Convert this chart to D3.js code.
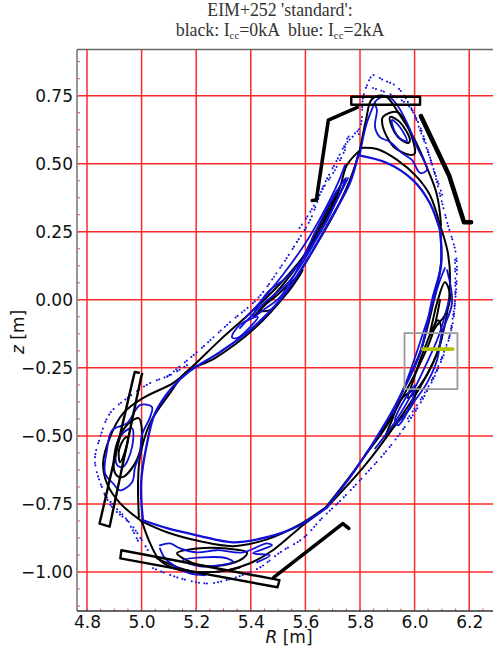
<!DOCTYPE html>
<html>
<head>
<meta charset="utf-8">
<script src="https://cdn.jsdelivr.net/npm/d3@7"></script>
<style>
  body { margin: 0; background: #fff; }
  svg { display: block; }
  .tick text { font-family: "DejaVu Sans"; font-size: 17px; fill: #111; }
</style>
</head>
<body>
<div id="chart"></div>
<script>
const rTicks = [4.8, 5.0, 5.2, 5.4, 5.6, 5.8, 6.0, 6.2];
const zTicks = [-1.0, -0.75, -0.5, -0.25, 0, 0.25, 0.5, 0.75];
const rMinor = d3.range(4.8, 6.3, 0.05);
const zMinor = d3.range(-1.125, 0.9, 0.0625);

// plasma boundary, black = 0 kA
const blackBoundaryTop = [[5.800,0.558],[5.862,0.554],[5.936,0.514],[6.009,0.451],[6.056,0.385],[6.093,0.275]];
const blackBoundaryRight = [[6.093,0.275],[6.097,0.139],[6.071,0],[6.023,-0.185],[5.961,-0.325],[5.895,-0.457],[5.785,-0.619],[5.675,-0.762]];
const blackBoundaryBottom = [[5.675,-0.762],[5.580,-0.825],[5.459,-0.880],[5.335,-0.905],[5.214,-0.887],[5.093,-0.854],[5.001,-0.814]];
const blackBoundaryInboard = [[4.990,-0.799],[4.987,-0.674],[4.994,-0.578],[5.031,-0.453],[5.104,-0.343],[5.163,-0.266],[5.269,-0.214],[5.415,-0.104],[5.525,0.017],[5.617,0.164],[5.708,0.322],[5.763,0.440],[5.800,0.550]];

// outer island separatrices, black
const blackOuterUpper = [[5.163,-0.266],[5.203,-0.229],[5.287,-0.148],[5.397,-0.049],[5.496,0.047],[5.591,0.157],[5.679,0.293],[5.727,0.414],[5.752,0.495],[5.800,0.550]];
const blackOuterTop = [[5.800,0.550],[5.822,0.661],[5.844,0.738],[5.892,0.749],[5.946,0.679],[6.001,0.587],[6.049,0.477],[6.082,0.385],[6.097,0.275]];
const blackOuterRight = [[6.093,0.275],[6.122,0.172],[6.130,0.061],[6.119,-0.049],[6.082,-0.196],[6.020,-0.321],[5.928,-0.461],[5.818,-0.608],[5.679,-0.762]];
const blackOuterBottom = [[5.679,-0.762],[5.591,-0.828],[5.481,-0.920],[5.397,-0.968],[5.313,-0.994],[5.214,-1.001],[5.141,-0.994],[5.067,-0.957],[5.031,-0.894],[5.001,-0.814]];
const blackOuterLeft = [[5.001,-0.814],[4.921,-0.747],[4.873,-0.674],[4.859,-0.600],[4.884,-0.505],[4.932,-0.417],[5.005,-0.361],[5.115,-0.306],[5.163,-0.266]];

// plasma boundary, blue = 2 kA
const blueBoundaryTop = [[5.793,0.532],[5.899,0.503],[5.994,0.440],[6.056,0.355],[6.093,0.256]];
const blueBoundaryRight = [[6.093,0.256],[6.097,0.127],[6.067,0.010],[6.020,-0.196],[5.958,-0.332],[5.899,-0.443],[5.782,-0.626],[5.679,-0.762]];
const blueBoundaryBottom = [[5.679,-0.762],[5.580,-0.828],[5.459,-0.872],[5.335,-0.891],[5.203,-0.865],[5.093,-0.839],[5.005,-0.810]];
const blueBoundaryInboard = [[5.005,-0.810],[4.998,-0.674],[5.020,-0.527],[5.049,-0.417],[5.111,-0.323],[5.177,-0.261],[5.287,-0.192],[5.397,-0.111],[5.507,-0.001],[5.606,0.146],[5.690,0.293],[5.763,0.429],[5.793,0.532]];

// closed island contours
const blackTopOuter = [[5.884,0.672],[5.936,0.690],[5.976,0.635],[6.001,0.539],[5.990,0.532],[5.928,0.558],[5.899,0.598],[5.881,0.650]];
const blackTopInner = [[5.910,0.672],[5.946,0.653],[5.983,0.587],[5.976,0.576],[5.939,0.598],[5.917,0.635]];
const blackLeftOuter = [[4.990,-0.435],[5.001,-0.516],[4.976,-0.600],[4.928,-0.652],[4.903,-0.637],[4.903,-0.553],[4.932,-0.479],[4.968,-0.442]];
const blackLeftInner = [[4.950,-0.505],[4.932,-0.578],[4.921,-0.597],[4.917,-0.553],[4.939,-0.508]];
const blackBottomOuter = [[5.130,-0.931],[5.203,-0.914],[5.313,-0.914],[5.386,-0.928],[5.371,-0.950],[5.298,-0.975],[5.214,-0.975],[5.152,-0.950]];
const blackUpperLoopA = [[5.434,-0.038],[5.496,0.017],[5.569,0.084],[5.591,0.109],[5.533,0.025],[5.470,-0.038]];
const blackUpperLoopB = [[5.624,0.220],[5.672,0.312],[5.716,0.403],[5.683,0.312],[5.639,0.227]];
const blackRightLoopA = [[6.082,-0.012],[6.111,0.065],[6.130,0.017],[6.111,-0.056],[6.082,-0.093],[6.056,-0.130],[6.067,-0.075]];
const blackRightLoopB = [[6.027,-0.203],[6.086,-0.075],[6.100,-0.130],[6.064,-0.240],[6.020,-0.314],[5.976,-0.361],[5.998,-0.288]];
const blackRightLoopC = [[5.947,-0.369],[6.001,-0.332],[5.990,-0.387],[5.928,-0.461],[5.892,-0.505],[5.917,-0.443]];

const blueTopWave = [[5.855,0.727],[5.899,0.749],[5.936,0.716],[5.976,0.642],[6.009,0.561],[6.045,0.477],[6.020,0.466],[5.990,0.514],[5.954,0.539],[5.910,0.580],[5.873,0.598],[5.855,0.635],[5.862,0.697]];
const blueTopInner = [[5.917,0.661],[5.946,0.635],[5.972,0.583],[5.946,0.594],[5.925,0.624]];
const blueLeftInner = [[4.965,-0.472],[4.965,-0.541],[4.932,-0.614],[4.910,-0.607],[4.910,-0.541],[4.932,-0.490]];
const blueLeftWave = [[4.892,-0.479],[4.873,-0.553],[4.866,-0.637],[4.895,-0.674],[4.921,-0.700],[4.965,-0.670],[4.976,-0.615],[4.994,-0.564],[5.001,-0.497],[5.031,-0.431],[5.038,-0.394],[4.994,-0.387],[4.947,-0.453]];
const blueBottomInner = [[5.152,-0.957],[5.225,-0.946],[5.313,-0.950],[5.335,-0.964],[5.287,-0.975],[5.214,-0.979],[5.170,-0.968]];
const blueUpperWave = [[5.408,-0.064],[5.459,0.025],[5.533,0.084],[5.606,0.172],[5.642,0.231],[5.679,0.293],[5.727,0.393],[5.749,0.448],[5.690,0.356],[5.617,0.208],[5.569,0.109],[5.507,0.010],[5.445,-0.038]];
const blueUpperLoop = [[5.331,-0.137],[5.360,-0.092],[5.426,-0.063],[5.397,-0.100],[5.349,-0.141]];
const blueRightLoop = [[5.928,-0.443],[6.001,-0.314],[5.990,-0.376],[5.939,-0.461]];

// open contours
const blackBottomArc = [[5.056,-0.950],[5.141,-0.986],[5.203,-1.001],[5.313,-0.994],[5.360,-0.983]];
const blackUpperStrand = [[5.415,-0.057],[5.507,0.043],[5.580,0.139],[5.653,0.264],[5.719,0.385]];
const blackRightStrand = [[6.093,-0.001],[6.064,-0.130],[6.012,-0.251],[5.954,-0.361],[5.892,-0.472],[5.818,-0.571]];
const blueBottomWave = [[5.067,-0.902],[5.104,-0.895],[5.141,-0.913],[5.203,-0.928],[5.276,-0.920],[5.371,-0.928],[5.459,-0.895],[5.478,-0.902],[5.408,-0.931],[5.470,-0.939],[5.423,-0.964]];
const blueBottomLow = [[5.067,-0.913],[5.086,-0.950],[5.130,-0.983],[5.177,-1.005],[5.232,-1.012]];
const blueRightWave = [[6.119,0.109],[6.137,-0.012],[6.100,-0.122],[6.082,-0.222],[6.045,-0.306],[5.994,-0.380],[5.958,-0.431],[5.921,-0.461]];
const blueRightInner = [[5.921,-0.417],[5.958,-0.332],[5.994,-0.233],[6.031,-0.122],[6.067,-0.012],[6.093,0.072],[6.111,0.117]];
const blueRightStrand = [[6.126,-0.001],[6.089,-0.130],[6.041,-0.240],[5.987,-0.351],[5.932,-0.443],[5.855,-0.546]];
const blueUpperOuter = [[5.379,-0.067],[5.452,0.011],[5.525,0.102],[5.598,0.205],[5.661,0.312],[5.716,0.422],[5.745,0.495]];
const blueUpperMiddle = [[5.360,-0.104],[5.441,-0.019],[5.544,0.072],[5.624,0.194],[5.697,0.330],[5.756,0.447]];
const blueTopLeg = [[5.800,0.535],[5.822,0.640],[5.855,0.727]];

// blue stochastic field lines, drawn as dots
const dotsRim = [[5.719,-0.747],[5.800,-0.663],[5.928,-0.516],[6.038,-0.350],[6.119,-0.167],[6.141,-0.056],[6.152,0.036],[6.152,0.164],[6.119,0.286],[6.056,0.525],[6.009,0.661],[5.936,0.782],[5.884,0.808],[5.848,0.826],[5.826,0.789],[5.811,0.742],[5.800,0.635],[5.745,0.569],[5.716,0.514],[5.664,0.414],[5.617,0.293],[5.566,0.208],[5.507,0.117],[5.426,0.006],[5.324,-0.082],[5.203,-0.192],[5.078,-0.295]];
const dotsLeft = [[5.166,-0.240],[5.104,-0.277],[5.031,-0.306],[4.947,-0.361],[4.884,-0.417],[4.848,-0.505],[4.829,-0.589],[4.855,-0.689],[4.892,-0.762],[4.958,-0.821],[4.994,-0.872],[5.023,-0.920]];
const dotsLeftInner = [[4.866,-0.718],[4.903,-0.762],[4.939,-0.799],[4.968,-0.847],[4.994,-0.902]];
const dotsBottom = [[5.042,-0.986],[5.141,-1.023],[5.240,-1.042],[5.335,-1.023],[5.434,-0.983],[5.507,-0.928],[5.591,-0.876],[5.664,-0.799],[5.719,-0.747]];
const dotsTopInner = [[5.848,0.778],[5.921,0.751],[5.983,0.707],[6.020,0.623],[6.067,0.488],[6.104,0.378]];
const dotsTopPatch = [[5.745,0.561],[5.756,0.597],[5.782,0.612],[5.804,0.605]];
const dotsUpperDense = [[5.745,0.550],[5.708,0.477],[5.661,0.403],[5.617,0.322],[5.573,0.256]];
const dotsRightInner = [[6.148,0.146],[6.148,-0.001],[6.137,-0.100],[6.075,-0.270],[6.020,-0.369],[5.965,-0.450]];

// vessel components, straight segments
const baffleTop = [[5.768,0.746],[6.020,0.746],[6.020,0.717],[5.768,0.717],[5.768,0.746]];
const shieldTopLeft = [[5.790,0.707],[5.684,0.660],[5.640,0.367],[5.625,0.365]];
const shieldTopRight = [[6.023,0.675],[6.126,0.458],[6.181,0.285],[6.207,0.285]];
const baffleLeft = [[4.990,-0.268],[4.975,-0.265],[4.970,-0.285],[4.846,-0.822],[4.883,-0.833],[4.998,-0.285],[5.002,-0.272]];
const baffleBottom = [[4.926,-0.920],[5.505,-1.030],[5.498,-1.056],[4.922,-0.950],[4.926,-0.920]];
const shieldBottom = [[5.484,-1.020],[5.737,-0.822],[5.759,-0.840]];
const diagnosticBox = [[5.963,-0.122],[6.157,-0.122],[6.157,-0.328],[5.963,-0.328],[5.963,-0.122]];
const strikeLine = [[6.030,-0.181],[6.140,-0.181]];

const openCurves = {
  black: [blackBoundaryTop, blackBoundaryRight, blackBoundaryBottom, blackBoundaryInboard,
    blackOuterUpper, blackOuterTop, blackOuterRight, blackOuterBottom, blackOuterLeft, blackBottomArc,
    blackUpperStrand, blackRightStrand],
  blue: [blueBottomWave, blueBottomLow, blueRightWave, blueRightInner, blueRightStrand, blueUpperOuter, blueUpperMiddle, blueTopLeg]
};
const closedCurves = {
  black: [blackTopOuter, blackTopInner, blackLeftOuter, blackLeftInner, blackBottomOuter,
    blackUpperLoopA, blackUpperLoopB, blackRightLoopA, blackRightLoopB, blackRightLoopC],
  blue: [blueTopWave, blueTopInner, blueLeftInner, blueLeftWave, blueBottomInner, blueUpperWave, blueUpperLoop, blueRightLoop]
};
const blueBoundary = [blueBoundaryTop, blueBoundaryRight, blueBoundaryBottom, blueBoundaryInboard];
const dotCurves = [dotsRim, dotsLeft, dotsLeftInner, dotsBottom, dotsTopInner, dotsTopPatch, dotsUpperDense, dotsRightInner];

const width = 493;
const height = 650;
const margin = {top: 49.5, right: 0, bottom: 39, left: 77};

const x = d3.scaleLinear().domain([4.8, 6.2]).range([87, 469.2]);
const y = d3.scaleLinear().domain([-1, 0.75]).range([572, 95.7]);

const svg = d3.select("#chart").append("svg")
  .attr("width", width)
  .attr("height", height);

// grid
svg.append("g").selectAll("line").data(rTicks).enter().append("line")
  .attr("x1", d => x(d)).attr("x2", d => x(d))
  .attr("y1", margin.top).attr("y2", height - margin.bottom)
  .attr("stroke", "#ff2828").attr("stroke-width", 1.5);
svg.append("g").selectAll("line").data(zTicks).enter().append("line")
  .attr("x1", margin.left).attr("x2", width)
  .attr("y1", d => y(d)).attr("y2", d => y(d))
  .attr("stroke", "#ff2828").attr("stroke-width", 1.5);

const openLine = d3.line().x(d => x(d[0])).y(d => y(d[1])).curve(d3.curveCatmullRom);
const closedLine = d3.line().x(d => x(d[0])).y(d => y(d[1])).curve(d3.curveCatmullRomClosed);
const straightLine = d3.line().x(d => x(d[0])).y(d => y(d[1]));

function drawCurves(data, lineGen, color, sw) {
  svg.append("g").selectAll("path").data(data).enter().append("path")
    .attr("d", lineGen)
    .attr("fill", "none")
    .attr("stroke", color)
    .attr("stroke-width", sw)
    .attr("stroke-linejoin", "round")
    .attr("stroke-linecap", "round");
}

// dots first, under the lines
svg.append("g").selectAll("path").data(dotCurves).enter().append("path")
  .attr("d", openLine)
  .attr("fill", "none")
  .attr("stroke", "#1414e0")
  .attr("stroke-width", 2)
  .attr("stroke-linecap", "round")
  .attr("stroke-dasharray", "0.1 3 0.1 5.5 0.1 2.5 0.1 7 0.1 4");

drawCurves(openCurves.black, openLine, "#000", 2);
drawCurves(closedCurves.black, closedLine, "#000", 2);
drawCurves(openCurves.blue, openLine, "#1010d8", 1.8);
drawCurves(closedCurves.blue, closedLine, "#1010d8", 1.8);
drawCurves(blueBoundary, openLine, "#1010d8", 2.3);

// vessel parts
drawCurves([baffleTop, baffleBottom, baffleLeft], straightLine, "#000", 2.4);
drawCurves([shieldTopLeft, shieldBottom], straightLine, "#000", 3.6);
drawCurves([shieldTopRight], straightLine, "#000", 4.6);
drawCurves([diagnosticBox], straightLine, "#999", 1.8);
drawCurves([strikeLine], straightLine, "#b4c400", 3.6);

// frame and axes
const axisBottom = d3.axisBottom(x).tickValues(rTicks).tickSize(0).tickPadding(5)
  .tickFormat(d3.format(".1f"));
const axisLeft = d3.axisLeft(y).tickValues(zTicks).tickSize(0).tickPadding(4)
  .tickFormat(d => d3.format(".2f")(d).replace("-", "\u2212"));

svg.append("g").attr("transform", `translate(0,${height - margin.bottom})`).call(axisBottom)
  .call(g => g.select(".domain").remove());
svg.append("g").attr("transform", `translate(${margin.left},0)`).call(axisLeft)
  .call(g => g.select(".domain").remove());

svg.append("g").selectAll("line").data(rMinor).enter().append("line")
  .attr("x1", d => x(d)).attr("x2", d => x(d))
  .attr("y1", height - margin.bottom).attr("y2", height - margin.bottom - 2.5)
  .attr("stroke", "#e05050");
svg.append("g").selectAll("line").data(zMinor).enter().append("line")
  .attr("x1", margin.left).attr("x2", margin.left + 3)
  .attr("y1", d => y(d)).attr("y2", d => y(d))
  .attr("stroke", "#e05050");

svg.append("path")
  .attr("d", `M${width},${margin.top}H${margin.left}`)
  .attr("fill", "none").attr("stroke", "#666").attr("stroke-width", 1.6);
svg.append("path")
  .attr("d", `M${margin.left},${margin.top}V${height - margin.bottom}`)
  .attr("fill", "none").attr("stroke", "#888").attr("stroke-width", 1.8);
svg.append("path")
  .attr("d", `M${margin.left},${height - margin.bottom}H${width}`)
  .attr("fill", "none").attr("stroke", "#333").attr("stroke-width", 1.6);

svg.append("text")
  .attr("x", 289).attr("y", 643)
  .attr("text-anchor", "middle")
  .attr("font-family", "DejaVu Sans").attr("font-size", 17).attr("fill", "#111")
  .html('<tspan font-style="italic">R</tspan> [m]');
svg.append("text")
  .attr("transform", "translate(24,332) rotate(-90)")
  .attr("text-anchor", "middle")
  .attr("font-family", "DejaVu Sans").attr("font-size", 17).attr("fill", "#111")
  .html('<tspan font-style="italic">z</tspan> [m]');

// title
const title = svg.append("g")
  .attr("font-family", "Liberation Serif").attr("font-size", 17.8).attr("fill", "#333")
  .attr("text-anchor", "middle");
title.append("text").attr("x", 280).attr("y", 16).text("EIM+252 'standard':");
title.append("text").attr("x", 280).attr("y", 36)
  .style("white-space", "pre")
  .html('black: I<tspan font-size="11" dy="3">cc</tspan><tspan dy="-3">=0kA  blue: I</tspan><tspan font-size="11" dy="3">cc</tspan><tspan dy="-3">=2kA</tspan>');
</script>
</body>
</html>
